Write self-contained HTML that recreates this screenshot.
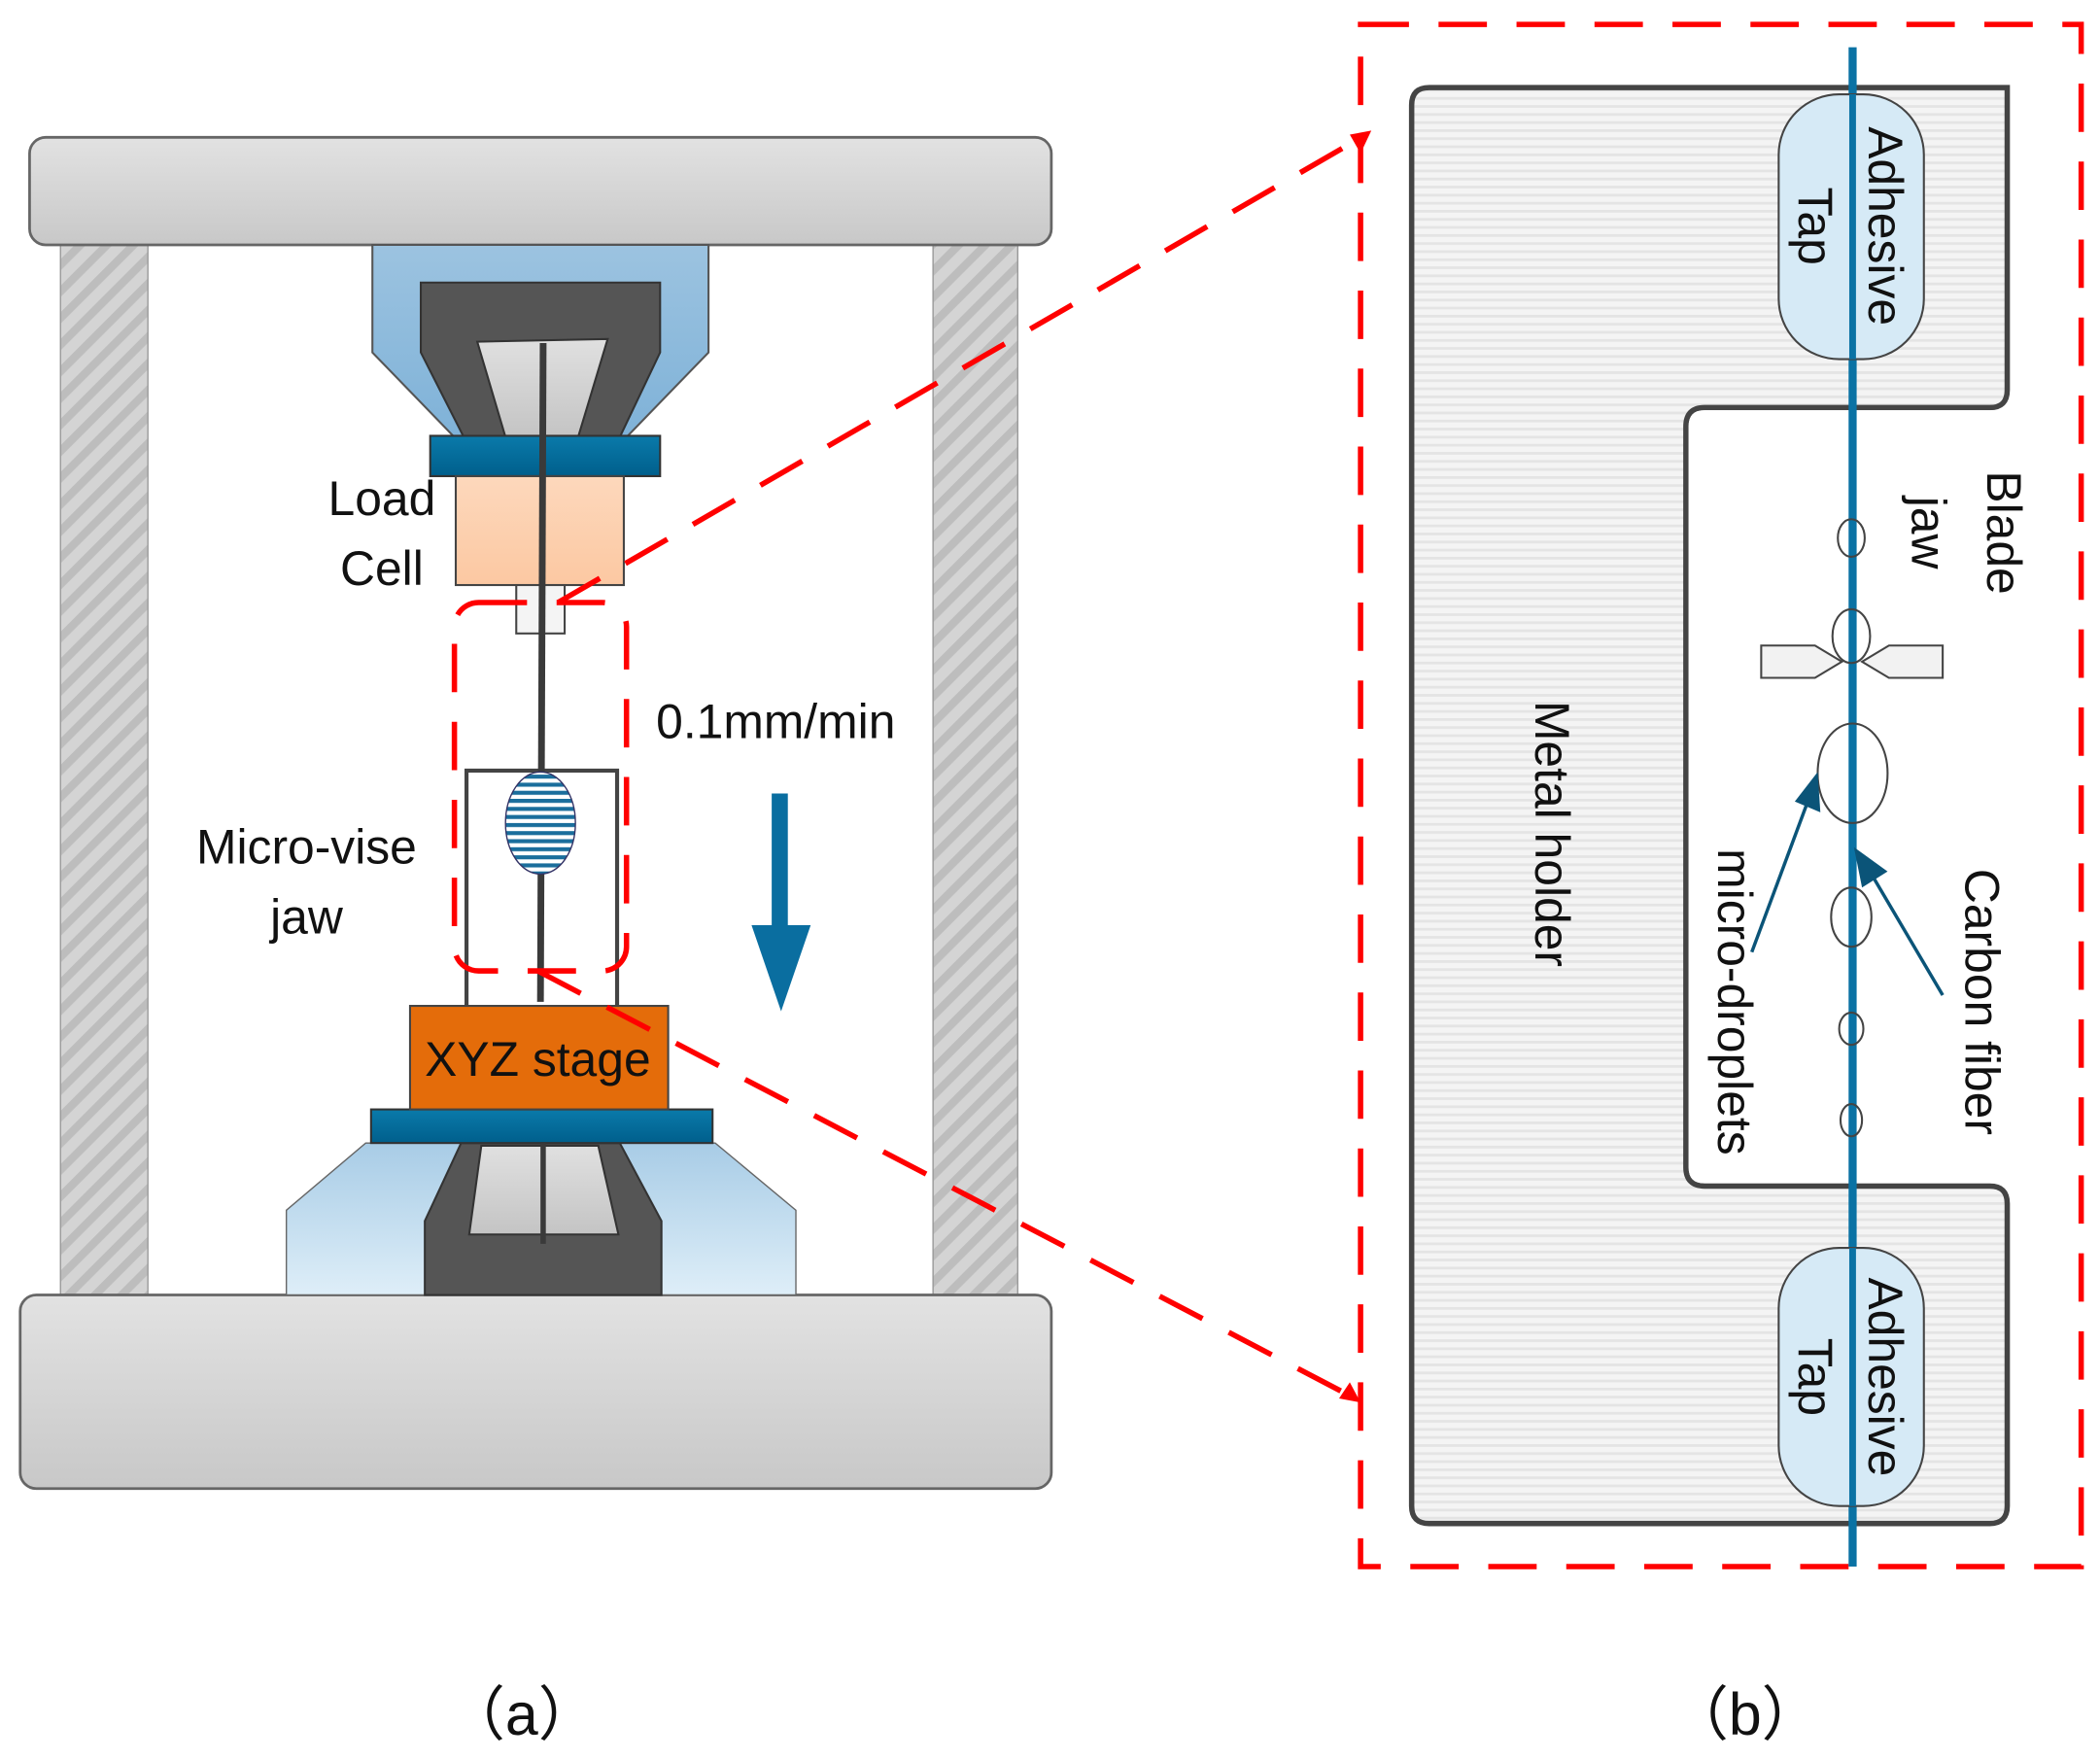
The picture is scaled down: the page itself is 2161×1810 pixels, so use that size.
<!DOCTYPE html>
<html><head><meta charset="utf-8"><style>html,body{margin:0;padding:0;background:#fff}svg{display:block}</style></head>
<body>
<svg width="2161" height="1810" viewBox="0 0 1562 1308" xmlns="http://www.w3.org/2000/svg" font-family="Liberation Sans, sans-serif">
<defs>
<linearGradient id="gb" x1="0" y1="0" x2="0" y2="1"><stop offset="0" stop-color="#e2e2e2"/><stop offset="1" stop-color="#c8c8c8"/></linearGradient>
<linearGradient id="blu" x1="0" y1="0" x2="0" y2="1"><stop offset="0" stop-color="#9cc3e0"/><stop offset="1" stop-color="#7fb2d8"/></linearGradient>
<linearGradient id="blu2" x1="0" y1="0" x2="0" y2="1"><stop offset="0" stop-color="#a8cce6"/><stop offset="1" stop-color="#deeef8"/></linearGradient>
<linearGradient id="plate" x1="0" y1="0" x2="0" y2="1"><stop offset="0" stop-color="#0a7aaa"/><stop offset="1" stop-color="#005f8c"/></linearGradient>
<linearGradient id="wedge" x1="0" y1="0" x2="0" y2="1"><stop offset="0" stop-color="#e0e0e0"/><stop offset="1" stop-color="#c4c4c4"/></linearGradient>
<linearGradient id="lc" x1="0" y1="0" x2="0" y2="1"><stop offset="0" stop-color="#fdd8bc"/><stop offset="1" stop-color="#fcc8a2"/></linearGradient>
<pattern id="hatch" width="14" height="14" patternUnits="userSpaceOnUse" patternTransform="rotate(-45)"><rect width="14" height="14" fill="#d4d4d4"/><rect width="14" height="6" fill="#bdbdbd"/></pattern>
<pattern id="lines" width="10" height="6" patternUnits="userSpaceOnUse"><rect width="10" height="6" fill="#f4f4f4"/><rect width="10" height="2" fill="#e4e4e4"/></pattern>
<pattern id="stripe" width="10" height="6" patternUnits="userSpaceOnUse"><rect width="10" height="6" fill="#fff"/><rect width="10" height="3" fill="#1a6e9c"/></pattern>
</defs>

<rect x="45" y="178" width="65" height="790" fill="url(#hatch)" stroke="#999"/>
<rect x="694" y="178" width="63" height="790" fill="url(#hatch)" stroke="#999"/>
<rect x="22" y="102" width="760" height="80" rx="12" fill="url(#gb)" stroke="#666" stroke-width="2"/>
<rect x="15" y="963" width="767" height="144" rx="12" fill="url(#gb)" stroke="#666" stroke-width="2"/>

<polygon points="277,182 527,182 527,262 466,325 338,325 277,262" fill="url(#blu)" stroke="#555" stroke-width="1.5"/>
<polygon points="313,210 491,210 491,262 461,325 345,325 313,262" fill="#555" stroke="#333" stroke-width="1.5"/>
<polygon points="355,254 452,252 430,325 376,325" fill="url(#wedge)" stroke="#333" stroke-width="1.5"/>
<rect x="320" y="324" width="171" height="30" fill="url(#plate)" stroke="#333" stroke-width="1.5"/>
<rect x="339" y="354" width="125" height="81" fill="url(#lc)" stroke="#444" stroke-width="1.5"/>
<rect x="384" y="435" width="36" height="36" fill="#f4f4f4" stroke="#444" stroke-width="1.5"/>

<polygon points="213,900 272,850 532,850 592,900 592,963 213,963" fill="url(#blu2)" stroke="#666" stroke-width="1"/>
<polygon points="343,850 461,850 492,908 492,963 316,963 316,908" fill="#555" stroke="#333" stroke-width="1.5"/>
<polygon points="358,852 445,852 460,918 349,918" fill="url(#wedge)" stroke="#333" stroke-width="1.5"/>
<rect x="276" y="825" width="254" height="25" fill="url(#plate)" stroke="#333" stroke-width="1.5"/>

<polyline points="347,748 347,573 459,573 459,748" fill="none" stroke="#444" stroke-width="3"/>
<line x1="404" y1="255" x2="402" y2="745" stroke="#3a3a3a" stroke-width="5"/>
<line x1="404" y1="850" x2="404" y2="925" stroke="#3a3a3a" stroke-width="4"/>
<ellipse cx="402" cy="612" rx="26" ry="38" fill="url(#stripe)" stroke="#336" stroke-width="1"/>
<rect x="305" y="748" width="192" height="77" fill="#e46c0a" stroke="#444" stroke-width="1.5"/>
<text x="400" y="800" font-size="36" text-anchor="middle" fill="#111">XYZ stage</text>

<rect x="338" y="448" width="128" height="274" rx="18" fill="none" stroke="#f00" stroke-width="4" stroke-dasharray="36,22"/>
<line x1="415" y1="448" x2="1016" y2="100" stroke="#f00" stroke-width="4" stroke-dasharray="36,22"/>
<line x1="400" y1="722" x2="1008" y2="1040" stroke="#f00" stroke-width="4" stroke-dasharray="36,22"/>
<polygon points="1020,97 1004,100 1012,114" fill="#f00"/>
<polygon points="1012,1043 996,1040 1004,1028" fill="#f00"/>

<line x1="580" y1="590" x2="580" y2="692" stroke="#0a6ea0" stroke-width="12"/>
<polygon points="559,688 603,688 581,752" fill="#0a6ea0"/>

<g font-size="36" fill="#111">
<text x="284" y="383" text-anchor="middle">Load</text>
<text x="284" y="435" text-anchor="middle">Cell</text>
<text x="488" y="549">0.1mm/min</text>
<text x="228" y="642" text-anchor="middle">Micro-vise</text>
<text x="228" y="694" text-anchor="middle">jaw</text>
<text x="388" y="1290" font-size="44" text-anchor="middle" font-family="Liberation Sans, Noto Sans CJK SC, sans-serif">（a）</text>
<text x="1298" y="1290" font-size="44" text-anchor="middle" font-family="Liberation Sans, Noto Sans CJK SC, sans-serif">（b）</text>
</g>

<rect x="1012" y="18" width="536" height="1147" fill="none" stroke="#f00" stroke-width="4" stroke-dasharray="36,22"/>
<path d="M1050,78 Q1050,65 1063,65 L1493,65 L1493,290 Q1493,303 1480,303 L1268,303 Q1254,303 1254,317 L1254,868 Q1254,882 1268,882 L1480,882 Q1493,882 1493,895 L1493,1120 Q1493,1133 1480,1133 L1063,1133 Q1050,1133 1050,1120 Z" fill="url(#lines)" stroke="#444" stroke-width="4"/>
<path d="M1256,317 L1256,868 Q1256,880 1268,880 L1491,880 L1491,305 L1268,305 Q1256,305 1256,317Z" fill="#fff"/>
<line x1="1378" y1="35" x2="1378" y2="1165" stroke="#0a72a4" stroke-width="6"/>
<rect x="1323" y="70" width="108" height="197" rx="45" fill="#d6eaf6" stroke="#444" stroke-width="1.5"/>
<rect x="1323" y="928" width="108" height="192" rx="45" fill="#d6eaf6" stroke="#444" stroke-width="1.5"/>
<line x1="1378" y1="70" x2="1378" y2="267" stroke="#0a72a4" stroke-width="5"/>
<line x1="1378" y1="928" x2="1378" y2="1120" stroke="#0a72a4" stroke-width="5"/>

<g fill="none" stroke="#444" stroke-width="1.5">
<ellipse cx="1377" cy="400" rx="10" ry="14"/>
<ellipse cx="1377" cy="473" rx="14" ry="20"/>
<ellipse cx="1378" cy="575" rx="26" ry="37"/>
<ellipse cx="1377" cy="682" rx="15" ry="22"/>
<ellipse cx="1377" cy="765" rx="9" ry="12"/>
<ellipse cx="1377" cy="833" rx="8" ry="12"/>
</g>
<polygon points="1310,480 1350,480 1370,492 1350,504 1310,504" fill="#f2f2f2" stroke="#444" stroke-width="1.5"/>
<polygon points="1445,480 1405,480 1385,492 1405,504 1445,504" fill="#f2f2f2" stroke="#444" stroke-width="1.5"/>

<line x1="1303" y1="708" x2="1345" y2="595" stroke="#0b5478" stroke-width="2.5"/>
<polygon points="1352,574 1335,596 1354,604" fill="#0b5478"/>
<line x1="1445" y1="740" x2="1392" y2="650" stroke="#0b5478" stroke-width="2.5"/>
<polygon points="1379,630 1385,660 1404,648" fill="#0b5478"/>

<g font-size="36" fill="#111">
<text transform="translate(1390,168) rotate(90)" text-anchor="middle">Adhesive</text>
<text transform="translate(1338,168) rotate(90)" text-anchor="middle">Tap</text>
<text transform="translate(1390,1024) rotate(90)" text-anchor="middle">Adhesive</text>
<text transform="translate(1338,1024) rotate(90)" text-anchor="middle">Tap</text>
<text transform="translate(1478,396) rotate(90)" text-anchor="middle">Blade</text>
<text transform="translate(1422,396) rotate(90)" text-anchor="middle">jaw</text>
<text transform="translate(1142,620) rotate(90)" text-anchor="middle">Metal holder</text>
<text transform="translate(1278,745) rotate(90)" text-anchor="middle">micro-droplets</text>
<text transform="translate(1462,745) rotate(90)" text-anchor="middle">Carbon fiber</text>
</g>
</svg>
</body></html>
